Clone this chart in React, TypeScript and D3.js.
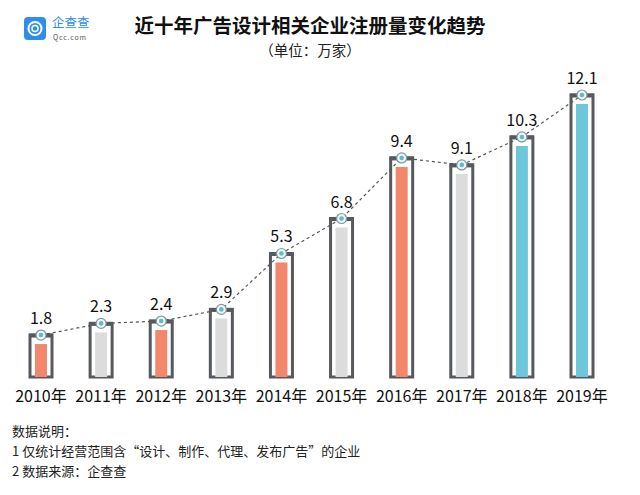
import React from 'react';
import * as d3 from 'd3';

const YEARS = ['2010年', '2011年', '2012年', '2013年', '2014年', '2015年', '2016年', '2017年', '2018年', '2019年'];
const VALUES = [1.8, 2.3, 2.4, 2.9, 5.3, 6.8, 9.4, 9.1, 10.3, 12.1];
const GROUPS = ['o', 'g', 'o', 'g', 'o', 'g', 'o', 'g', 'b', 'b'];
const NOTES = ['数据说明：', '1 仅统计经营范围含“设计、制作、代理、发布广告”的企业', '2 数据来源：企查查'];

const COLORS: Record<string, string> = { o: '#f2876c', g: '#dcdcdc', b: '#6cc7dc' };
const FONT = '"Noto Sans CJK SC", "Noto Sans", sans-serif';

const W = 640;
const H = 495;
const baseY = 377;

const App: React.FC = () => {
  const x = d3.scalePoint<string>().domain(YEARS).range([41, 582]);
  const y = d3.scaleLinear().domain([0, 12.1]).range([baseY, 95]);

  const pts: [number, number][] = YEARS.map((d, i) => [x(d)!, y(VALUES[i])]);
  const line = d3.line()(pts) || '';
  const fw = 22;
  const iw = 12;

  return (
    <div style={{ margin: -8 }}>
      <svg width={W} height={H} style={{ display: 'block', background: '#fff' }} fontFamily={FONT}>
        {/* logo */}
        <rect x={24} y={17} width={22} height={23} rx={4} fill="#2f8fe8" />
        <circle cx={35} cy={28.5} r={6.5} fill="none" stroke="#fff" strokeWidth={2} />
        <circle cx={35} cy={28.5} r={3} fill="none" stroke="#fff" strokeWidth={1.5} />
        <text x={52} y={27} fontSize={12.5} fill="#2f8fe8">企查查</text>
        <text x={53} y={40} fontSize={7} fill="#555" letterSpacing={0.8}>Qcc.com</text>

        <text x={310} y={33} textAnchor="middle" fontSize={19.5} fontWeight="bold" fill="#111">近十年广告设计相关企业注册量变化趋势</text>
        <text x={310} y={56} textAnchor="middle" fontSize={14.5} fill="#222">（单位：万家）</text>

        {YEARS.map((d, i) => {
          const cx = x(d)!;
          const top = y(VALUES[i]);
          return (
            <g key={d}>
              <rect x={cx - fw / 2} y={top} width={fw} height={baseY - top} fill="#fff" stroke="#565a5e" strokeWidth={3} />
              <rect x={cx - fw / 2 - 1} y={top - 1.5} width={fw + 2} height={4} fill="#565a5e" />
              <rect x={cx - iw / 2} y={top + 9} width={iw} height={baseY - top - 9} fill={COLORS[GROUPS[i]]} />
              <text x={cx} y={top - 11} textAnchor="middle" fontSize={16} fill="#111">{VALUES[i]}</text>
            </g>
          );
        })}

        <path d={line} fill="none" stroke="#555" strokeWidth={1.2} strokeDasharray="3,3" />
        {pts.map(([px, py], i) => (
          <g key={i}>
            <circle cx={px} cy={py} r={5} fill="#eef6f7" stroke="#7d9aa0" strokeWidth={1.2} />
            <circle cx={px} cy={py} r={2.3} fill="#66b9c4" />
          </g>
        ))}

        {YEARS.map((d) => (
          <text key={d} x={x(d)!} y={402} textAnchor="middle" fontSize={16} fill="#111">{d}</text>
        ))}

        {NOTES.map((n, i) => (
          <text key={i} x={12} y={436 + i * 20} fontSize={13} fill="#222">{n}</text>
        ))}
      </svg>
    </div>
  );
};

export default App;
